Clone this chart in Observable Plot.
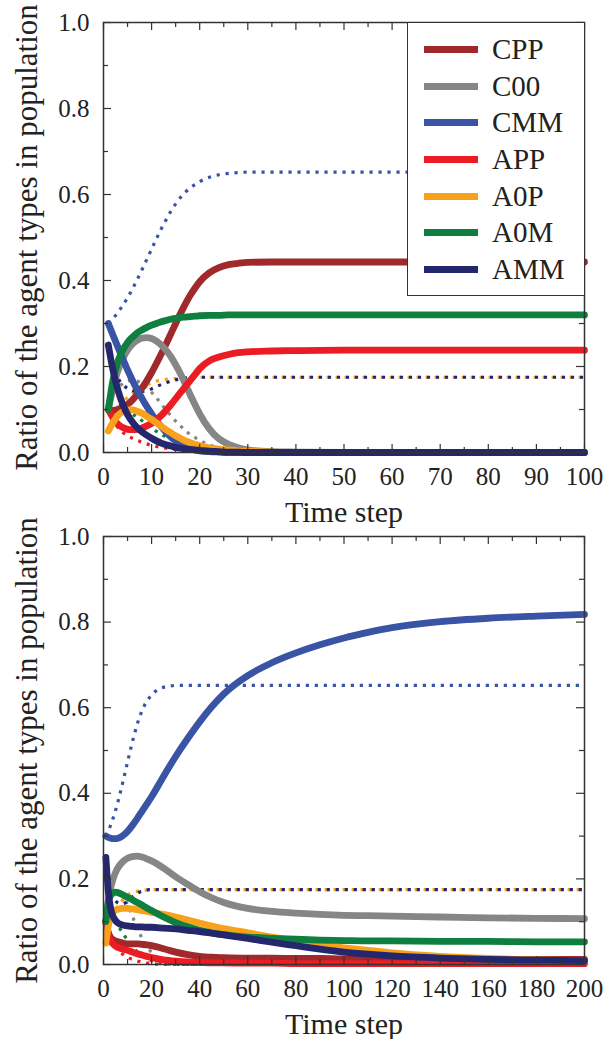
<!DOCTYPE html>
<html>
<head>
<meta charset="utf-8">
<script src="https://cdn.jsdelivr.net/npm/d3@7"></script>
<script src="https://cdn.jsdelivr.net/npm/@observablehq/plot@0.6"></script>
<style>
  body { margin: 0; background: #fff; }
  #wrap { position: relative; width: 610px; height: 1039px; font-family: "Liberation Serif", "Times New Roman", serif; }
  #wrap svg { display: block; overflow: visible; }
  .legend { position: absolute; left: 407px; top: 22px; width: 178px; height: 274px; border: 1.5px solid #333;
            background: #fff; box-sizing: border-box; padding-top: 8px; }
  .row { height: 36.7px; display: flex; align-items: center; font-size: 29px; line-height: 36.7px; color: #222; }
  .swatch { width: 54px; height: 7px; margin-left: 16px; margin-right: 14px; }
</style>
</head>
<body>
<div id="wrap"><div id="top"></div><div id="bottom"></div><div class="legend" id="legend"></div></div>
<script>
// ---------- categories / styling keys ----------
const SERIES = ["CPP", "C00", "CMM", "APP", "A0P", "A0M", "AMM"];
const COLORS = ["#9f292b", "#868686", "#3953a5", "#ec1c24", "#f8a21c", "#0e7f3f", "#25276e"];

// ---------- tick labels ----------
const yTicks = [0, 0.2, 0.4, 0.6, 0.8, 1.0];
const yMinor = [0.1, 0.3, 0.5, 0.7, 0.9];
const topXTicks = [0, 10, 20, 30, 40, 50, 60, 70, 80, 90, 100];
const topXMinor = [5, 15, 25, 35, 45, 55, 65, 75, 85, 95];
const botXTicks = [0, 20, 40, 60, 80, 100, 120, 140, 160, 180, 200];
const botXMinor = [10, 30, 50, 70, 90, 110, 130, 150, 170, 190];

// ---------- top panel (solid lines) ----------
const T_TOP = [1,2,3,4,5,6,7,8,9,10,11,12,13,14,15,16,17,18,19,20,22,24,26,28,30,35,40,50,60,80,100];
const topCPP = [.10,.098,.10,.105,.112,.122,.135,.15,.167,.186,.207,.229,.252,.276,.30,.323,.345,.365,.382,.397,.418,.43,.437,.44,.442,.443,.443,.443,.443,.443,.443];
const topC00 = [.10,.15,.19,.218,.238,.252,.261,.266,.267,.265,.259,.25,.238,.223,.204,.183,.16,.135,.112,.09,.055,.032,.019,.011,.006,.002,.001,0,0,0,0];
const topCMM = [.30,.272,.245,.218,.192,.168,.146,.126,.107,.09,.074,.06,.047,.036,.027,.019,.013,.009,.006,.004,.002,.001,0,0,0,0,0,0,0,0,0];
const topAPP = [.10,.08,.066,.058,.054,.053,.054,.057,.062,.068,.076,.086,.098,.111,.125,.139,.153,.167,.181,.195,.213,.222,.228,.232,.234,.236,.237,.238,.238,.238,.238];
const topA0P = [.05,.07,.086,.095,.099,.099,.096,.091,.084,.077,.069,.061,.053,.046,.039,.033,.027,.023,.019,.016,.011,.008,.006,.004,.003,.001,0,0,0,0,0];
const topA0M = [.10,.17,.212,.238,.256,.268,.278,.285,.291,.296,.30,.304,.307,.31,.312,.314,.315,.316,.317,.318,.319,.319,.32,.32,.32,.32,.32,.32,.32,.32,.32];
const topAMM = [.25,.19,.145,.112,.088,.071,.058,.048,.04,.033,.027,.022,.018,.015,.012,.01,.008,.007,.006,.005,.003,.002,.001,.001,0,0,0,0,0,0,0];

// ---------- bottom panel (solid lines) ----------
const T_BOT = [1,2,3,4,5,6,8,10,12,14,16,18,20,25,30,35,40,45,50,60,70,80,90,100,110,120,140,160,180,200];
const botCPP = [.10,.075,.063,.058,.055,.053,.05,.048,.048,.048,.047,.046,.044,.037,.029,.023,.019,.017,.016,.015,.015,.014,.014,.013,.013,.013,.012,.012,.012,.012];
const botC00 = [.10,.15,.18,.20,.215,.226,.24,.248,.252,.253,.251,.247,.242,.225,.205,.187,.17,.156,.145,.131,.124,.12,.117,.115,.114,.113,.111,.109,.108,.107];
const botCMM = [.30,.297,.295,.294,.294,.295,.301,.311,.325,.341,.358,.375,.392,.44,.486,.528,.567,.602,.632,.675,.705,.728,.747,.763,.776,.787,.801,.809,.814,.818];
const botAPP = [.10,.07,.055,.048,.043,.04,.036,.033,.029,.025,.022,.019,.016,.011,.008,.006,.005,.004,.004,.003,.003,.002,.002,.002,.002,.002,.002,.002,.002,.002];
const botA0P = [.05,.09,.112,.122,.127,.129,.131,.131,.13,.128,.126,.124,.122,.117,.111,.104,.097,.09,.084,.074,.064,.055,.046,.039,.033,.027,.019,.014,.011,.009];
const botA0M = [.10,.145,.162,.168,.169,.168,.163,.157,.151,.145,.139,.132,.126,.111,.098,.088,.08,.074,.07,.064,.061,.059,.057,.056,.055,.055,.054,.054,.053,.053];
const botAMM = [.25,.17,.13,.112,.103,.097,.092,.09,.089,.088,.088,.087,.087,.085,.083,.08,.077,.073,.069,.061,.052,.044,.036,.029,.024,.02,.015,.012,.01,.009];

// ---------- dotted reference curves (same in both panels) ----------
const T_DOT = [1,2,3,4,5,6,7,8,9,10,11,12,13,14,15,16,17,18,19,20,22,24,26,28,30,35,40,50,60,80,100,120,140,160,180,200];
const dotC00 = [.10,.13,.15,.16,.166,.168,.166,.16,.151,.14,.127,.113,.099,.086,.073,.062,.051,.042,.035,.028,.018,.011,.007,.004,.002,.001,0,0,0,0,0,0,0,0,0,0];
const dotCMM = [.30,.312,.326,.342,.36,.38,.402,.425,.449,.473,.497,.52,.541,.561,.578,.593,.605,.615,.623,.63,.64,.646,.649,.651,.652,.652,.652,.652,.652,.652,.652,.652,.652,.652,.652,.652];
const dotAPP = [.10,.075,.058,.047,.039,.033,.028,.024,.02,.017,.014,.012,.01,.008,.007,.005,.004,.003,.003,.002,.001,0,0,0,0,0,0,0,0,0,0,0,0,0,0,0];
const dotA0P = [.05,.08,.102,.117,.128,.137,.145,.151,.157,.162,.166,.168,.17,.171,.172,.173,.174,.174,.175,.175,.175,.175,.175,.175,.175,.175,.175,.175,.175,.175,.175,.175,.175,.175,.175,.175];
const dotA0M = [.10,.105,.105,.102,.097,.09,.082,.074,.065,.057,.049,.042,.036,.03,.025,.021,.017,.014,.011,.009,.006,.004,.002,.001,0,0,0,0,0,0,0,0,0,0,0,0];
const dotAMM = [.25,.20,.173,.158,.149,.144,.142,.142,.144,.148,.153,.158,.162,.166,.169,.171,.173,.174,.175,.175,.175,.175,.175,.175,.175,.175,.175,.175,.175,.175,.175,.175,.175,.175,.175,.175];

const FONT = '"Liberation Serif", "Times New Roman", serif';
const rows = (ts, vs) => ts.map((t, i) => ({t, v: vs[i]}));
const colorOf = name => COLORS[SERIES.indexOf(name)];

const dotted = [["C00", dotC00], ["A0M", dotA0M], ["APP", dotAPP], ["A0P", dotA0P], ["AMM", dotAMM], ["CMM", dotCMM]];

function panel({T, solids, xmax, xTicks, xMinor, height, mt, mb}) {
  const ml = 103, mr = 26;
  const fw = 610 - ml - mr, fh = height - mt - mb;
  const marks = [];
  for (const [name, vals] of dotted) {
    marks.push(Plot.line(rows(T_DOT, vals).filter(d => d.t <= xmax), {
      x: "t", y: "v", stroke: colorOf(name), strokeWidth: 3.2, strokeDasharray: "3.2,5.8",
      strokeLinecap: "butt", curve: "monotone-x"
    }));
  }
  SERIES.forEach((name, i) => {
    marks.push(Plot.line(rows(T, solids[i]), {
      x: "t", y: "v", stroke: COLORS[i], strokeWidth: 6.8, curve: "monotone-x", strokeLinejoin: "round"
    }));
  });
  const tickStyle = {stroke: "#333", strokeWidth: 1.2};
  marks.push(
    Plot.ruleX(xTicks, {x: d => d, insetTop: fh - 8, ...tickStyle}),
    Plot.ruleX(xTicks, {x: d => d, insetBottom: fh - 8, ...tickStyle}),
    Plot.ruleX(xMinor, {x: d => d, insetTop: fh - 5, ...tickStyle}),
    Plot.ruleX(xMinor, {x: d => d, insetBottom: fh - 5, ...tickStyle}),
    Plot.ruleY(yTicks, {y: d => d, insetRight: fw - 8, ...tickStyle}),
    Plot.ruleY(yTicks, {y: d => d, insetLeft: fw - 8, ...tickStyle}),
    Plot.ruleY(yMinor, {y: d => d, insetRight: fw - 5, ...tickStyle}),
    Plot.ruleY(yMinor, {y: d => d, insetLeft: fw - 5, ...tickStyle}),
    Plot.frame({stroke: "#333", strokeWidth: 1.5}),
    // tick labels
    Plot.text(xTicks, {x: d => d, text: d => String(d), frameAnchor: "bottom", dy: 24, textAnchor: "middle",
                       lineAnchor: "middle", fontSize: 25, fontFamily: FONT, fill: "#222"}),
    Plot.text(yTicks, {y: d => d, text: d => d.toFixed(1), frameAnchor: "left", dx: -14, textAnchor: "end",
                       lineAnchor: "middle", fontSize: 25, fontFamily: FONT, fill: "#222"}),
    // axis titles
    Plot.text(["Ratio of the agent types in population"], {frameAnchor: "left", dx: -76, rotate: -90, textAnchor: "middle",
                        lineAnchor: "middle", fontSize: 31, fontFamily: FONT, fill: "#222"}),
    Plot.text(["Time step"], {frameAnchor: "bottom", dy: 60, fontSize: 30, fontFamily: FONT, fill: "#222",
                        textAnchor: "middle", lineAnchor: "middle"})
  );
  return Plot.plot({
    width: 610, height, marginLeft: ml, marginRight: mr, marginTop: mt, marginBottom: mb,
    style: {fontFamily: FONT, background: "transparent", color: "#222", overflow: "visible"},
    x: {domain: [0, xmax], axis: null}, y: {domain: [0, 1], axis: null},
    marks
  });
}

document.getElementById("top").appendChild(panel({
  T: T_TOP, solids: [topCPP, topC00, topCMM, topAPP, topA0P, topA0M, topAMM],
  xmax: 100, xTicks: topXTicks, xMinor: topXMinor, height: 519, mt: 22, mb: 67
}));
document.getElementById("bottom").appendChild(panel({
  T: T_BOT, solids: [botCPP, botC00, botCMM, botAPP, botA0P, botA0M, botAMM],
  xmax: 200, xTicks: botXTicks, xMinor: botXMinor, height: 520, mt: 17, mb: 75
}));

const legend = document.getElementById("legend");
SERIES.forEach((name, i) => {
  const row = document.createElement("div");
  row.className = "row";
  const sw = document.createElement("div");
  sw.className = "swatch";
  sw.style.background = COLORS[i];
  const label = document.createElement("span");
  label.textContent = name;
  row.appendChild(sw);
  row.appendChild(label);
  legend.appendChild(row);
});
</script>
</body>
</html>
